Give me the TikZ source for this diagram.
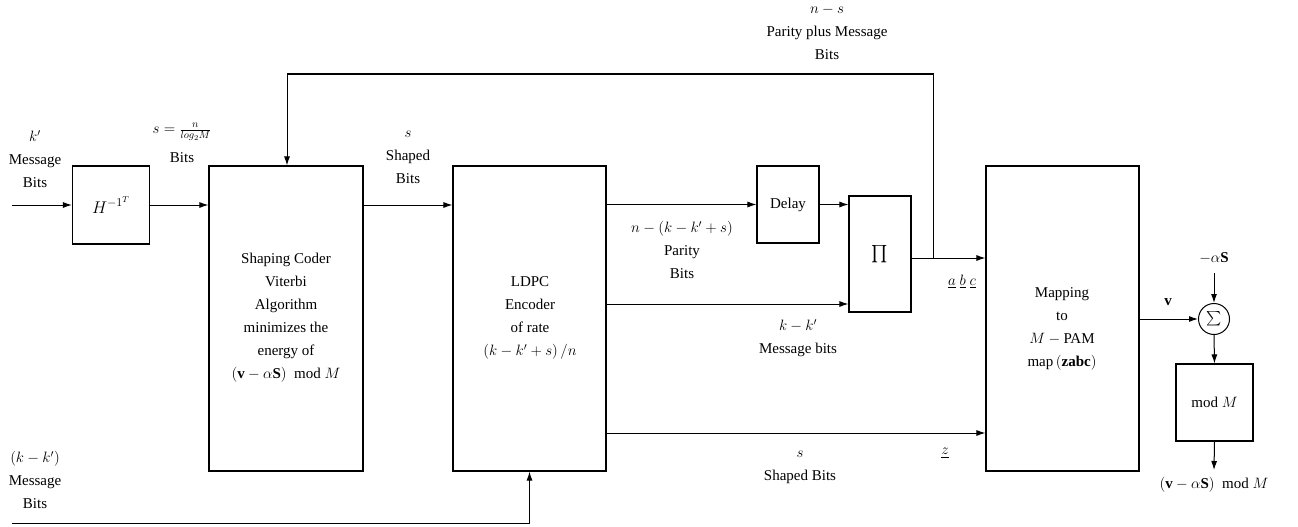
\RequirePackage{fix-cm}
\documentclass[tikz,border=0pt]{standalone}
\usepackage{amsmath}
\usepackage{fontspec}
\setmainfont{Liberation Serif}
\usetikzlibrary{arrows.meta,calc}
\begin{document}
\begin{tikzpicture}[x=1pt,y=-1pt,
  every node/.style={font=\fontsize{15}{23}\selectfont, inner sep=0pt},
  blk/.style={draw, line width=1.1pt, rectangle},
  lbl/.style={align=center},
  arr/.style={line width=1pt, -{Latex[length=9pt,width=6pt]}},
  ln/.style={line width=1pt}]
\useasboundingbox (0,0) rectangle (1298,527);
% blocks
\node[blk, minimum width=77pt, minimum height=78pt] (H) at (111,205) {\fontsize{17}{17}\selectfont$H^{-1^T}$};
\node[blk, minimum width=154pt, minimum height=305pt] (SC) at (286,318.5) {};
\node[blk, minimum width=153pt, minimum height=305pt] (LD) at (529.5,318.5) {};
\node[blk, minimum width=62pt, minimum height=77pt] (DL) at (788,204.5) {Delay};
\node[blk, minimum width=62pt, minimum height=116pt] (PI) at (880,254) {\fontsize{18}{18}\selectfont$\prod$};
\node[blk, minimum width=153pt, minimum height=305pt] (MP) at (1062.5,318.5) {};
\node[draw, line width=1pt, circle, minimum size=31pt] (SUM) at (1214,319) {$\sum$};
\node[blk, minimum width=77pt, minimum height=77pt] (MOD) at (1214.5,402.5) {mod $M$};
% block texts
\node[lbl] (SCt) at (286,318) {Shaping Coder\\Viterbi\\Algorithm\\minimizes the\\energy of\\$(\mathbf{v}-\alpha\mathbf{S})$\ \ mod $M$};
\node[lbl] (LDt) at (530,318) {LDPC\\Encoder\\of rate\\$(k-k'+s)\,/n$};
\node[lbl] (MPt) at (1062,329) {Mapping\\to\\$M-{}$PAM\\map\,$(\mathbf{zabc})$};
% helper coordinates
\coordinate (in1) at (12,205);
\coordinate (in2) at (12,523);
\coordinate (yP) at (0,304);
\coordinate (yO) at (0,258);
\coordinate (yS) at (0,433);
\coordinate (yT) at (0,74);
\coordinate (br) at (933,258);
\coordinate (fb) at (287,0);
\coordinate (na) at (1214,273);
\coordinate (out) at (1214,470);
% connectors
\draw[arr] (in1) -- (H.west);
\draw[arr] (H.east) -- (H.east -| SC.west);
\draw[arr] (H.east -| SC.east) -- (H.east -| LD.west);
\draw[arr] (DL.west -| LD.east) -- (DL.west);
\draw[arr] (DL.east) -- (DL.east -| PI.west);
\draw[arr] (LD.east |- yP) -- (PI.west |- yP);
\draw[arr] (PI.east |- yO) -- (MP.west |- yO);
\draw[arr] (br) |- (fb |- yT) -- (fb |- SC.north);
\draw[arr] (LD.east |- yS) -- (MP.west |- yS);
\draw[arr] (in2) -| (LD.south);
\draw[arr] (MP.east |- SUM.west) -- (SUM.west);
\draw[arr] (na) -- (SUM.north);
\draw[arr] (SUM.south) -- (MOD.north);
\draw[arr] (MOD.south) -- (out);
% labels
\node[lbl] (l1) at (35,159) {$k'$\\Message\\Bits};
\node (l2a) at (182,132) {$s=\frac{n}{log_2 M}$};
\node (l2b) at (182,158) {Bits};
\node[lbl] (l3) at (408,157) {$s$\\Shaped\\Bits};
\node[lbl] (l4) at (682,250) {$n-(k-k'+s)$\\Parity\\Bits};
\node[lbl] (l5) at (798,338) {$k-k'$\\Message bits};
\node (l6) at (962,282) {$\underline{a}\ \underline{b}\ \underline{c}$};
\node[lbl] (l7) at (800,467) {$s$\\Shaped Bits};
\node (l8) at (945,453) {$\underline{z}$};
\node[lbl] (l9) at (827,32) {$n-s$\\Parity plus Message\\Bits};
\node (l10) at (1168,302) {$\mathbf{v}$};
\node (l11) at (1214,258) {$-\alpha\mathbf{S}$};
\node (l12) at (1214,485) {$(\mathbf{v}-\alpha\mathbf{S})$\ \ mod $M$};
\node[lbl] (l13) at (35,480) {$(k-k')$\\Message\\Bits};
\end{tikzpicture}
\end{document}
